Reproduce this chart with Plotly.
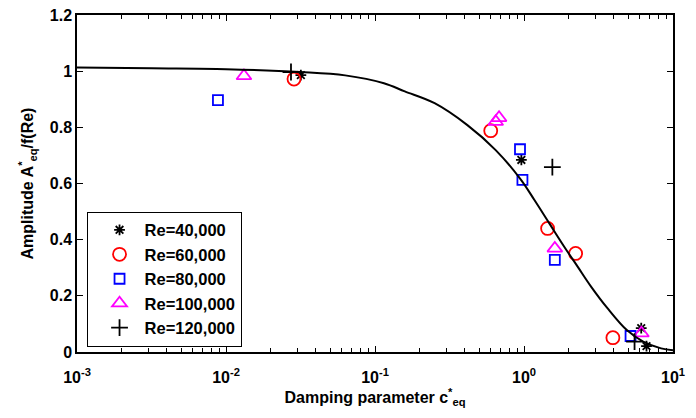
import plotly.graph_objects as go

# Fitted curve: log10(c*) and amplitude
curve_logx = [-3.0, -2.5, -2.0, -1.5, -1.2, -0.94, -0.8, -0.6, -0.38, -0.19,
              -0.02, 0.07, 0.17, 0.27, 0.36, 0.45, 0.56, 0.69, 0.80, 0.92, 1.0]
curve_y = [1.013, 1.010, 1.007, 0.997, 0.985, 0.957, 0.928, 0.886, 0.808, 0.719,
           0.613, 0.541, 0.458, 0.375, 0.304, 0.233, 0.156, 0.078, 0.037, 0.013, 0.006]

series_names = ["Re=40,000", "Re=60,000", "Re=80,000", "Re=100,000", "Re=120,000"]
re40_x = [0.0318, 0.96, 6.12, 6.64]
re40_y = [0.986, 0.684, 0.085, 0.021]
re60_x = [0.0286, 0.598, 1.44, 2.22, 3.95]
re60_y = [0.972, 0.788, 0.440, 0.351, 0.051]
re80_x = [0.00883, 0.94, 0.976, 1.61, 5.19]
re80_y = [0.897, 0.722, 0.613, 0.328, 0.057]
re100_x = [0.0132, 0.646, 0.68, 1.61, 6.14]
re100_y = [0.983, 0.820, 0.834, 0.369, 0.067]
re120_x = [0.0273, 1.55, 5.52]
re120_y = [0.997, 0.658, 0.037]

x_tickvals = [0.001, 0.01, 0.1, 1, 10]
x_ticktext = ["10<sup>-3</sup>", "10<sup>-2</sup>", "10<sup>-1</sup>",
              "10<sup>0</sup>", "10<sup>1</sup>"]
x_minor_mult = [2, 3, 4, 5, 6, 7, 8, 9]
y_tickvals = [0, 0.2, 0.4, 0.6, 0.8, 1.0, 1.2]
y_ticktext = ["0", "0.2", "0.4", "0.6", "0.8", "1", "1.2"]

FAM = "Liberation Sans, Arial"

fig = go.Figure()
# curve lives on the overlaying axis (same log range) that carries minor ticks
fig.add_trace(go.Scatter(
    x=[10 ** v for v in curve_logx], y=curve_y, mode="lines", xaxis="x2",
    line=dict(color="black", width=2, shape="spline"), showlegend=False))

styles = [
    dict(symbol="asterisk", color="black", size=9),
    dict(symbol="circle-open", color="#ff0000", size=13),
    dict(symbol="square-open", color="#0000ff", size=10),
    dict(symbol="triangle-up-open", color="#ff00ff", size=13),
    dict(symbol="cross-thin", color="black", size=12),
]
xs = [re40_x, re60_x, re80_x, re100_x, re120_x]
ys = [re40_y, re60_y, re80_y, re100_y, re120_y]
for name, st, x, y in zip(series_names, styles, xs, ys):
    fig.add_trace(go.Scatter(
        x=x, y=y, mode="markers", name=name,
        marker=dict(symbol=st["symbol"], size=st["size"], color=st["color"],
                    line=dict(color=st["color"], width=1.8))))

minor_vals = [m * t for t in x_tickvals[:-1] for m in x_minor_mult]

fig.update_layout(
    width=696, height=418,
    margin=dict(l=77, r=23, t=15, b=66),
    paper_bgcolor="white", plot_bgcolor="white",
    font=dict(family=FAM, size=16, color="black"),
    legend=dict(x=0.016, y=0.016, xanchor="left", yanchor="bottom",
                bgcolor="white", bordercolor="black", borderwidth=1,
                font=dict(family=FAM, size=16.5, color="black", weight="bold"),
                tracegroupgap=0, itemwidth=40, indentation=7),
    xaxis=dict(
        type="log", range=[-3, 1], tickvals=x_tickvals, ticktext=x_ticktext,
        ticks="inside", ticklen=6, tickwidth=1.2, tickcolor="black",
        ticklabelstandoff=10,
        showline=True, linecolor="black", linewidth=1.5, mirror="ticks",
        showgrid=False, zeroline=False, automargin=False,
        tickfont=dict(family=FAM, size=16, color="black", weight="bold"),
        title=dict(text="Damping parameter c<sup>*</sup><sub>eq</sub>", standoff=6,
                   font=dict(family=FAM, size=16, color="black", weight="bold")),
    ),
    xaxis2=dict(
        type="log", range=[-3, 1], overlaying="x", anchor="y", side="bottom",
        tickvals=minor_vals, showticklabels=False,
        ticks="inside", ticklen=4, tickwidth=1.2, tickcolor="black",
        showline=False, mirror="ticks", showgrid=False, zeroline=False,
        automargin=False,
    ),
    yaxis=dict(
        range=[0, 1.2], tickvals=y_tickvals, ticktext=y_ticktext,
        ticks="inside", ticklen=6, tickwidth=1.2, tickcolor="black",
        showline=True, linecolor="black", linewidth=1.5, mirror="ticks",
        showgrid=False, zeroline=False, automargin=False,
        tickfont=dict(family=FAM, size=16, color="black", weight="bold"),
        title=dict(text="Amplitude A<sup>*</sup><sub>eq</sub>/f(Re)", standoff=12,
                   font=dict(family=FAM, size=16, color="black", weight="bold")),
    ),
)
fig.write_html("out.html", config={"displayModeBar": False},
               post_script="document.body.style.margin='0px';")
